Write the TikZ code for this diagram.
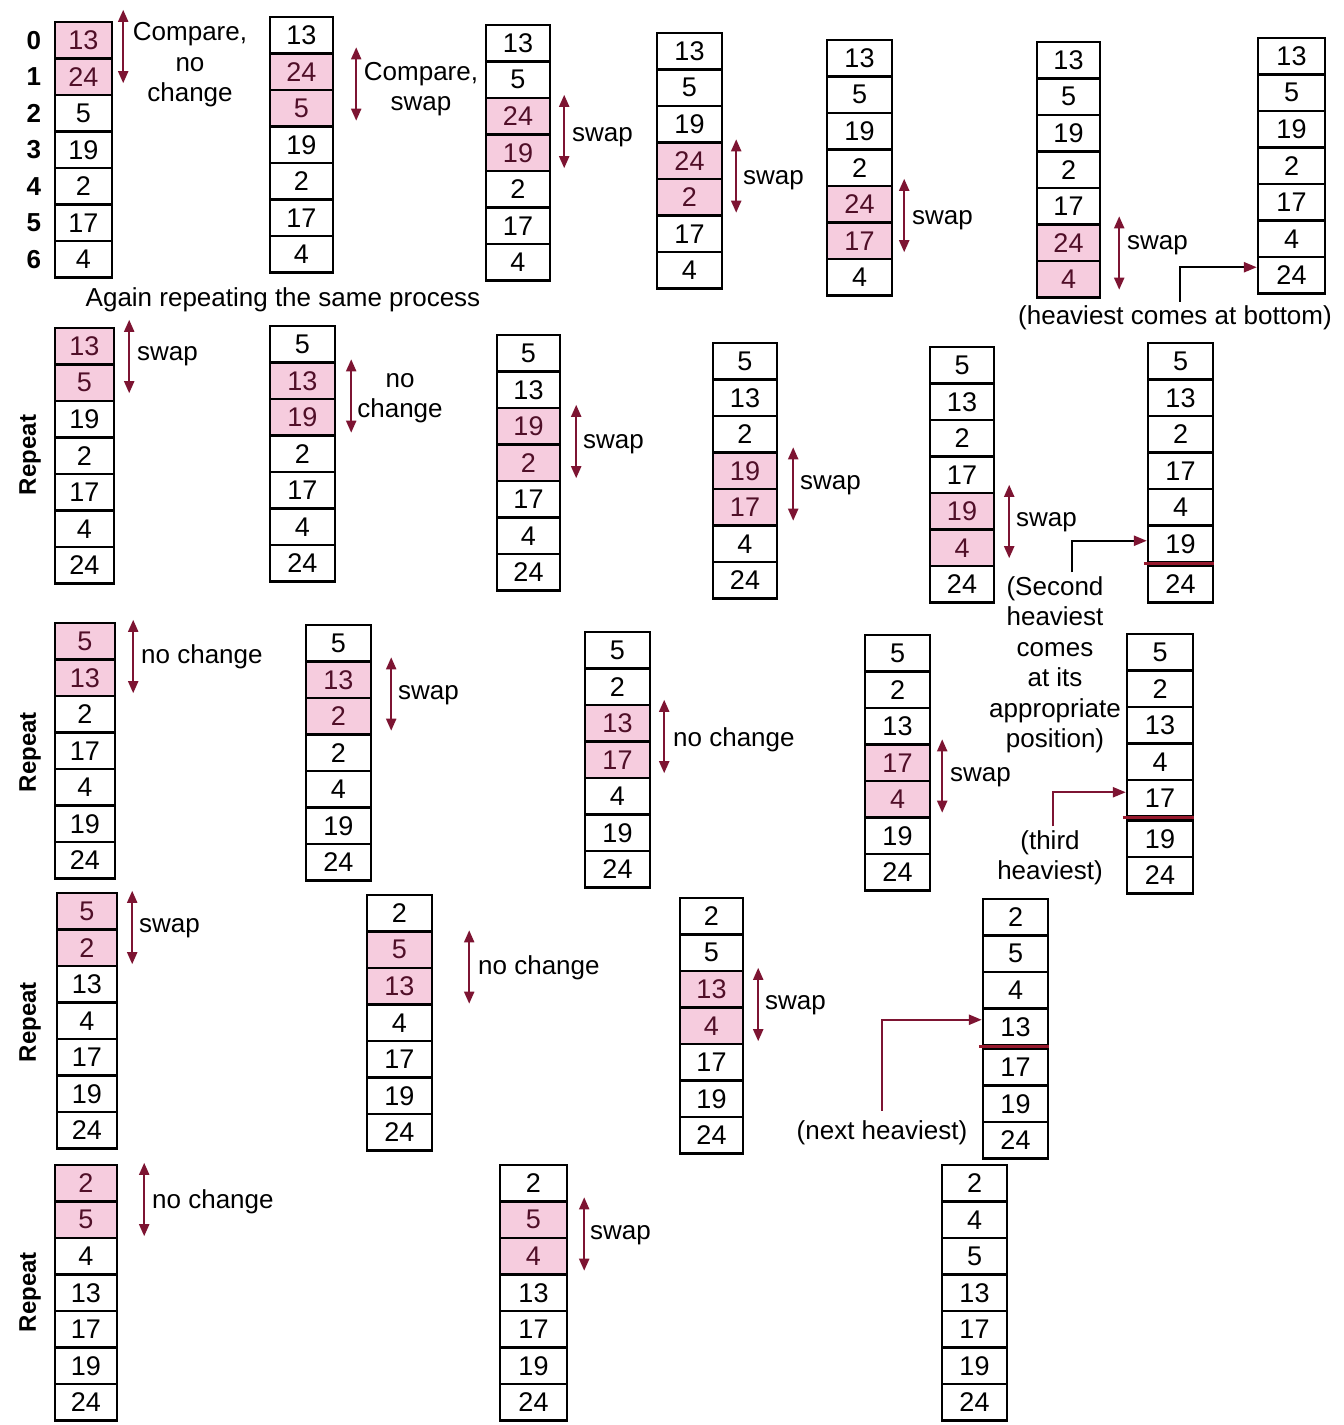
\documentclass[tikz,border=0pt]{standalone}
\usepackage{fontspec}
\setmainfont{Liberation Sans}
\usetikzlibrary{arrows.meta,calc}
\definecolor{P}{RGB}{246,204,222}
\definecolor{W}{RGB}{255,255,255}
\definecolor{TP}{RGB}{80,15,40}
\definecolor{TW}{RGB}{0,0,0}
\definecolor{arr}{RGB}{125,20,50}
\definecolor{sepc}{RGB}{150,25,45}
\tikzset{
  cell/.style={draw=black, line width=2.4pt, minimum height=36.5pt, inner sep=0pt,
    font=\fontsize{27}{27}\selectfont, anchor=center},
  dbl/.style={arr, line width=2pt, shorten <=1pt, shorten >=1pt,
    {Triangle[length=12pt,width=10pt]}-{Triangle[length=12pt,width=10pt]}},
  lab/.style={font=\fontsize{26}{30.5}\selectfont, inner sep=0pt, align=center},
  wlab/.style={lab, anchor=west},
  idx/.style={font=\bfseries\fontsize{26}{26}\selectfont, inner sep=0pt},
  rep/.style={font=\bfseries\fontsize{24}{24}\selectfont, inner sep=0pt, rotate=90},
  elb/.style={line width=2.4pt, -{Triangle[length=13pt,width=10pt,color=arr]}},
  sepline/.style={sepc, line width=3pt},
}
\newcommand{\cellcol}[6]{%
  \foreach \v/\s [count=\i from #5] in {#6} {
    \node[cell, minimum width=#4pt, fill=\s, text=T\s] (#1-\i) at (#2, #3+\i*36.5+18.25) {\v};
  }%
}
\newcommand{\cmparrow}[4]{\draw[dbl] ([shift={(#3,#4)}]#1.north east) -- ([shift={(#3,#4)}]#2.south east);}
\begin{document}
\begin{tikzpicture}[x=1pt,y=-1pt]
\useasboundingbox[fill=white] (0,0) rectangle (1344,1425);
% ---------- Row 1 ----------
\cellcol{r1a}{83.5}{22}{57}{0}{13/P,24/P,5/W,19/W,2/W,17/W,4/W}
\cellcol{r1b}{301.5}{17}{63}{0}{13/W,24/P,5/P,19/W,2/W,17/W,4/W}
\cellcol{r1c}{518}{25}{64}{0}{13/W,5/W,24/P,19/P,2/W,17/W,4/W}
\cellcol{r1d}{689.5}{33}{65}{0}{13/W,5/W,19/W,24/P,2/P,17/W,4/W}
\cellcol{r1e}{859.5}{40}{65}{0}{13/W,5/W,19/W,2/W,24/P,17/P,4/W}
\cellcol{r1f}{1068.5}{42}{63}{0}{13/W,5/W,19/W,2/W,17/W,24/P,4/P}
\cellcol{r1g}{1291.5}{38}{67}{0}{13/W,5/W,19/W,2/W,17/W,4/W,24/W}
\foreach \i in {0,...,6} { \node[idx] (ix\i) at ([xshift=-20pt]r1a-\i.west) {\i}; }
\cmparrow{r1a-0}{r1a-1}{10}{-12}
\cmparrow{r1b-1}{r1b-2}{22}{-6}
\cmparrow{r1c-2}{r1c-3}{13}{-3}
\cmparrow{r1d-3}{r1d-4}{13}{-3}
\cmparrow{r1e-4}{r1e-5}{11}{-7}
\cmparrow{r1f-5}{r1f-6}{18}{-8}
\node[lab] (l1a) at (190,65) {Compare,\\no\\change};
\node[lab] (l1b) at (421,89) {Compare,\\swap};
\node[wlab] (l1c) at (572,137) {swap};
\node[wlab] (l1d) at (743,180) {swap};
\node[wlab] (l1e) at (912,220) {swap};
\node[wlab] (l1f) at (1127,245) {swap};
\node[lab] (again) at (283,300) {Again repeating the same process};
\node[lab] (heavy) at (1175,318) {(heaviest comes at bottom)};
\draw[elb] ([xshift=5pt,yshift=4pt]heavy.north) |- ([yshift=8pt]r1g-6.west);
% ---------- Row 2 ----------
\node[rep] (rep2) at (30,455) {Repeat};
\cellcol{r2a}{84.5}{328}{59}{0}{13/P,5/P,19/W,2/W,17/W,4/W,24/W}
\cellcol{r2b}{302.5}{326}{65}{0}{5/W,13/P,19/P,2/W,17/W,4/W,24/W}
\cellcol{r2c}{528.5}{335}{63}{0}{5/W,13/W,19/P,2/P,17/W,4/W,24/W}
\cellcol{r2d}{745}{343}{64}{0}{5/W,13/W,2/W,19/P,17/P,4/W,24/W}
\cellcol{r2e}{962}{347}{64}{0}{5/W,13/W,2/W,17/W,19/P,4/P,24/W}
\cellcol{r2f}{1180.5}{343}{65}{0}{5/W,13/W,2/W,17/W,4/W,19/W}
\cellcol{r2f}{1180.5}{347}{65}{6}{24/W}
\draw[sepline] ([xshift=-3pt]r2f-5.south west) -- (r2f-5.south east);
\cmparrow{r2a-0}{r2a-1}{14}{-8}
\cmparrow{r2b-1}{r2b-2}{15}{-3}
\cmparrow{r2c-2}{r2c-3}{15}{-3}
\cmparrow{r2d-3}{r2d-4}{15}{-5}
\cmparrow{r2e-4}{r2e-5}{14}{-8}
\node[wlab] (l2a) at (137,356) {swap};
\node[lab] (l2b) at (400,398) {no\\change};
\node[wlab] (l2c) at (583,444) {swap};
\node[wlab] (l2d) at (800,485) {swap};
\node[wlab] (l2e) at (1016,522) {swap};
\node[lab] (second) at (1055,665) {(Second\\heaviest\\comes\\at its\\appropriate\\position)};
\draw[elb] ([xshift=17pt,yshift=4pt]second.north) |- ([yshift=3pt]r2f-5.west);
% ---------- Row 3 ----------
\node[rep] (rep3) at (30,752) {Repeat};
\cellcol{r3a}{85}{623}{60}{0}{5/P,13/P,2/W,17/W,4/W,19/W,24/W}
\cellcol{r3b}{338.5}{625}{65}{0}{5/W,13/P,2/P,2/W,4/W,19/W,24/W}
\cellcol{r3c}{617.5}{632}{65}{0}{5/W,2/W,13/P,17/P,4/W,19/W,24/W}
\cellcol{r3d}{897.5}{635}{65}{0}{5/W,2/W,13/W,17/P,4/P,19/W,24/W}
\cellcol{r3e}{1160}{634}{66}{0}{5/W,2/W,13/W,4/W,17/W}
\cellcol{r3e}{1160}{638}{66}{5}{19/W,24/W}
\draw[sepline] ([xshift=-3pt]r3e-4.south west) -- (r3e-4.south east);
\cmparrow{r3a-0}{r3a-1}{17}{-3}
\cmparrow{r3b-1}{r3b-2}{19}{-4}
\cmparrow{r3c-2}{r3c-3}{13}{-5}
\cmparrow{r3d-3}{r3d-4}{11}{-5}
\node[wlab] (l3a) at (141,657) {no change};
\node[wlab] (l3b) at (398,695) {swap};
\node[wlab] (l3c) at (673,740) {no change};
\node[wlab] (l3d) at (950,777) {swap};
\node[lab] (third) at (1050,858) {(third\\heaviest)};
\draw[elb, arr] ([xshift=3pt,yshift=4pt]third.north) |- ([yshift=6pt]r3e-4.west);
% ---------- Row 4 ----------
\node[rep] (rep4) at (30,1022) {Repeat};
\cellcol{r4a}{87}{893}{60}{0}{5/P,2/P,13/W,4/W,17/W,19/W,24/W}
\cellcol{r4b}{399.5}{895}{65}{0}{2/W,5/P,13/P,4/W,17/W,19/W,24/W}
\cellcol{r4c}{711.5}{898}{63}{0}{2/W,5/W,13/P,4/P,17/W,19/W,24/W}
\cellcol{r4d}{1015.5}{899}{65}{0}{2/W,5/W,4/W,13/W}
\cellcol{r4d}{1015.5}{903}{65}{4}{17/W,19/W,24/W}
\draw[sepline] ([xshift=-3pt]r4d-3.south west) -- (r4d-3.south east);
\cmparrow{r4a-0}{r4a-1}{14}{-2}
\cmparrow{r4b-1}{r4b-2}{36}{-1}
\cmparrow{r4c-2}{r4c-3}{14}{-3}
\node[wlab] (l4a) at (139,928) {swap};
\node[wlab] (l4b) at (478,968) {no change};
\node[wlab] (l4c) at (765,1005) {swap};
\node[lab] (nexth) at (882,1133) {(next heaviest)};
\draw[elb, arr] ([yshift=10pt]nexth.north) |- ([yshift=7pt]r4d-3.west);
% ---------- Row 5 ----------
\node[rep] (rep5) at (30,1292) {Repeat};
\cellcol{r5a}{86}{1165}{62}{0}{2/P,5/P,4/W,13/W,17/W,19/W,24/W}
\cellcol{r5b}{533.5}{1165}{67}{0}{2/W,5/P,4/P,13/W,17/W,19/W,24/W}
\cellcol{r5c}{974.5}{1165}{65}{0}{2/W,4/W,5/W,13/W,17/W,19/W,24/W}
\cmparrow{r5a-0}{r5a-1}{26}{-2}
\cmparrow{r5b-1}{r5b-2}{16}{-4}
\node[wlab] (l5a) at (152,1202) {no change};
\node[wlab] (l5b) at (590,1235) {swap};
\end{tikzpicture}
\end{document}
